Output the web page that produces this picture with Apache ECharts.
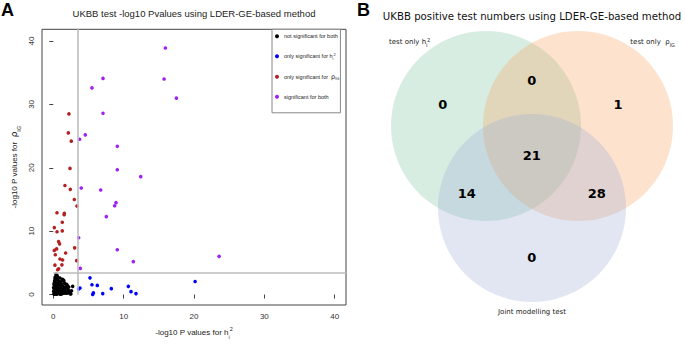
<!DOCTYPE html>
<html><head><meta charset="utf-8">
<script src="https://cdn.jsdelivr.net/npm/echarts@6/dist/echarts.min.js"></script>
<style>html,body{margin:0;padding:0;background:#fff}#c{width:685px;height:345px}</style>
</head><body><div id="c"></div>
<script>
// ---------- data (panel A) ----------
const notSig = [[0.1,0.1],[0.2,0.3],[0.3,0.5],[0.15,0.8],[0.4,1.0],[0.25,1.3],[0.5,1.6],[0.35,1.9],[0.2,2.2],[0.45,2.5],[0.3,2.8],[0.4,3.2],[0.55,3.0],[0.6,2.3],[0.7,1.8],[0.8,1.4],[0.65,1.1],[0.9,0.9],[0.75,0.6],[0.6,0.3],[0.85,0.15],[1.0,0.4],[1.1,0.7],[1.0,1.2],[1.2,1.6],[1.1,2.0],[1.3,2.4],[1.5,2.2],[1.4,1.3],[1.6,0.9],[1.3,0.5],[1.5,0.2],[1.7,0.6],[1.8,1.1],[1.9,1.6],[2.0,0.3],[2.1,0.8],[2.3,0.5],[2.4,0.15],[2.6,0.6],[2.76,1.29],[2.2,1.2],[1.0,0.05],[0.05,0.5],[0.1,1.6],[0.05,1.1],[0.2,0.05],[0.5,0.05],[0.3,0.15],[0.45,0.7],[0.6,1.4],[0.9,1.7],[0.8,2.1],[0.95,2.6],[1.2,0.1],[1.8,0.2],[1.6,1.8],[0.35,2.4],[0.15,1.9],[0.7,0.4],[0.55,0.9],[1.15,0.95],[1.4,0.7],[2.0,1.4],[1.66,1.13],[2.1,0.26],[2.5,0.1],[1.42,2.3],[0.25,2.6],[0.65,2.7]];
const onlyH = [[5.22,2.63],[5.5,1.55],[6.26,1.44],[3.8,1.04],[3.6,0.88],[5.6,0.0],[5.7,0.26],[7.03,0.15],[8.25,0.93],[10.67,1.29],[11.05,0.46],[11.76,0.15],[20.16,2.06]];
const onlyRho = [[2.23,28.5],[2.14,25.5],[2.56,24.2],[2.38,19.9],[1.66,17.2],[2.42,16.6],[2.99,15.0],[3.37,13.96],[0.53,12.9],[1.57,12.8],[1.55,12.6],[1.28,11.4],[0.15,10.56],[0.53,9.9],[1.28,10.05],[0.76,8.35],[0.9,8.0],[3.04,7.37],[0.15,6.96],[0.48,7.2],[1.76,6.55],[0.29,6.28],[0.95,5.6],[1.33,5.46],[3.32,5.36],[0.24,4.64],[1.23,4.69],[0.62,3.91],[0.76,4.07]];
const both = [[15.93,38.9],[7.07,34.1],[15.75,34.0],[5.5,32.6],[17.5,31.0],[7.07,28.6],[4.55,25.2],[3.75,24.5],[9.1,23.4],[9.1,19.7],[12.43,18.6],[3.98,16.8],[6.74,16.5],[8.92,14.5],[8.73,14.0],[7.54,12.3],[3.61,8.96],[9.1,7.06],[11.38,5.2],[23.57,6.03],[3.84,4.12]];
const threshold = 3.47;
const xTicks = [0,10,20,30,40];
const yTicks = [0,10,20,30,40];
const seriesNames = ['not significant for both','only significant for h','only significant for rho','significant for both'];

// ---------- data (panel B) ----------
const vennSets = ['test only h', 'test only rho', 'Joint modelling test'];
const vennRegions = ['h only','h & rho','rho only','h & joint','all three','rho & joint','joint only'];
const vennCounts = [0, 0, 1, 14, 21, 28, 0];

// ---------- layout ----------
const FONT = 'Liberation Sans';
const subRich = {
  sub: {fontSize: 5.5, verticalAlign: 'bottom', lineHeight: 12, fontFamily: FONT, color: '#222', padding:[0,0,-2,0]},
  sup: {fontSize: 5.5, verticalAlign: 'top', lineHeight: 12, fontFamily: FONT, color: '#222'},
  rho: {fontSize: 9, fontFamily: 'DejaVu Sans', color: '#222'}
};
const vennLabelPos = [[442.7,104],[531.7,80],[618,104],[466.7,193],[531.7,155],[596.7,193],[531.7,257]];
const vennCircles = [[486,126,95],[578,126,95],[532,208,94]];
const vennColors = ['#7ac39e','#f89e5c','#9bacd4'];

const chart = echarts.init(document.getElementById('c'), null, {renderer: 'svg'});
const option = {
  animation: false,
  backgroundColor: '#fff',
  textStyle: {fontFamily: FONT},
  grid: [
    {left: 42, top: 29.3, width: 304, height: 281.4, show: true, borderColor: '#444', borderWidth: 1, backgroundColor: 'transparent'},
    {left: 360, top: 0, width: 325, height: 345, show: false}
  ],
  xAxis: [
    {gridIndex: 0, type: 'value', min: -1.6, max: 41.6,
     axisLine: {show: false},
     axisTick: {show: true, customValues: xTicks, length: 4, lineStyle: {color: '#444'}},
     axisLabel: {customValues: xTicks, fontSize: 8, color: '#333', margin: 7, fontFamily: FONT},
     splitLine: {show: false},
     name: '-log10 P values for h{sub|i}{sup|2}', nameLocation: 'middle', nameGap: 21,
     nameTextStyle: {fontSize: 8, color: '#222', fontFamily: FONT, rich: subRich}},
    {gridIndex: 1, type: 'value', min: 360, max: 685, show: false}
  ],
  yAxis: [
    {gridIndex: 0, type: 'value', min: -1.65, max: 41.85,
     axisLine: {show: false},
     axisTick: {show: true, customValues: yTicks, length: 4, lineStyle: {color: '#444'}},
     axisLabel: {customValues: yTicks, fontSize: 8, color: '#333', margin: 7, rotate: 90, fontFamily: FONT},
     splitLine: {show: false},
     name: '-log10 P values for  {rho|ρ}{sub|IG}', nameLocation: 'middle', nameGap: 22, nameRotate: 90,
     nameTextStyle: {fontSize: 8, color: '#222', fontFamily: FONT, rich: subRich}},
    {gridIndex: 1, type: 'value', min: 0, max: 345, inverse: true, show: false}
  ],
  legend: {
    show: true, orient: 'vertical', left: 272, top: 29.3,
    itemWidth: 4, itemHeight: 4, icon: 'circle', itemGap: 13,
    padding: [4, 1, 13, 3],
    borderColor: '#888', borderWidth: 1, borderRadius: 0, backgroundColor: '#fff',
    data: seriesNames,
    textStyle: {fontSize: 5.5, color: '#222', fontFamily: FONT,
      rich: {sub: {fontSize: 4, verticalAlign: 'bottom', lineHeight: 8, color:'#222'}, sup: {fontSize: 4, verticalAlign: 'top', lineHeight: 8, color:'#222'}, rho: {fontSize: 6.5, fontFamily: 'DejaVu Sans', color:'#222'}}},
    formatter: function (n) {
      if (n === seriesNames[1]) return 'only significant for h{sub|i}{sup|2}';
      if (n === seriesNames[2]) return 'only significant for  {rho|ρ}{sub|IG}';
      return n;
    }
  },
  series: [
    {type: 'scatter', name: seriesNames[0], data: notSig, symbolSize: 3.6, itemStyle: {color: '#000', opacity: 1},
     markLine: {silent: true, symbol: 'none', label: {show: false}, lineStyle: {color: '#bdbdbd', width: 1.6, type: 'solid'},
       data: [
         [{coord: [threshold, 0]}, {coord: [threshold, 41.85]}],
         [{coord: [0, threshold]}, {coord: [41.6, threshold]}]
       ]}},
    {type: 'scatter', name: seriesNames[1], data: onlyH, symbolSize: 3.6, itemStyle: {color: '#0000ff', opacity: 1}},
    {type: 'scatter', name: seriesNames[2], data: onlyRho, symbolSize: 3.6, itemStyle: {color: '#b22222', opacity: 1}},
    {type: 'scatter', name: seriesNames[3], data: both, symbolSize: 3.6, itemStyle: {color: '#a020f0', opacity: 1}},
    {type: 'custom', xAxisIndex: 1, yAxisIndex: 1, silent: true,
     data: vennSets.map((s, i) => [vennCircles[i][0], vennCircles[i][1], vennCircles[i][2], i]),
     renderItem: function (params, api) {
       const c = api.coord([api.value(0), api.value(1)]);
       const r = api.size([api.value(2), 0])[0];
       return {type: 'circle', shape: {cx: c[0], cy: c[1], r: r},
               style: {fill: vennColors[api.value(3)], opacity: 0.3}};
     }},
    {type: 'scatter', xAxisIndex: 1, yAxisIndex: 1, silent: true, symbolSize: 0, itemStyle: {opacity: 1},
     data: vennCounts.map((v, i) => [vennLabelPos[i][0], vennLabelPos[i][1], v]),
     label: {show: true, position: 'inside', formatter: p => String(p.value[2]), opacity: 1,
             fontSize: 13, fontWeight: 'bold', color: '#000', fontFamily: 'DejaVu Sans'}}
  ],
  graphic: [
    {type: 'text', left: 1, top: 1, style: {text: 'A', font: 'bold 18px "Liberation Sans"', fill: '#000'}},
    {type: 'text', x: 194, y: 13, style: {text: 'UKBB test -log10 Pvalues using LDER-GE-based method', font: '9.5px "Liberation Sans"', fill: '#222', textAlign: 'center', textVerticalAlign: 'middle'}},
    {type: 'text', left: 357, top: 1, style: {text: 'B', font: 'bold 18px "Liberation Sans"', fill: '#000'}},
    {type: 'text', x: 532, y: 16, style: {text: 'UKBB positive test numbers using LDER-GE-based method', font: '10.2px "DejaVu Sans"', fill: '#111', textAlign: 'center', textVerticalAlign: 'middle'}},
    {type: 'text', x: 389, y: 42, style: {text: 'test only h{sub|i}{sup|2}', font: '7px "DejaVu Sans"', fill: '#222', textAlign: 'left', textVerticalAlign: 'middle',
      rich: {sub: {fontSize: 5, verticalAlign: 'bottom', lineHeight: 10, fill:'#222'}, sup: {fontSize: 5, verticalAlign: 'top', lineHeight: 10, fill:'#222'}}}},
    {type: 'text', x: 675, y: 42, style: {text: 'test only  ρ{sub|IG}', font: '7px "DejaVu Sans"', fill: '#222', textAlign: 'right', textVerticalAlign: 'middle',
      rich: {sub: {fontSize: 5, verticalAlign: 'bottom', lineHeight: 10, fill:'#222'}}}},
    {type: 'text', x: 532, y: 312, style: {text: 'Joint modelling test', font: '7px "DejaVu Sans"', fill: '#222', textAlign: 'center', textVerticalAlign: 'middle'}}
  ]
};
chart.setOption(option);
</script></body></html>
